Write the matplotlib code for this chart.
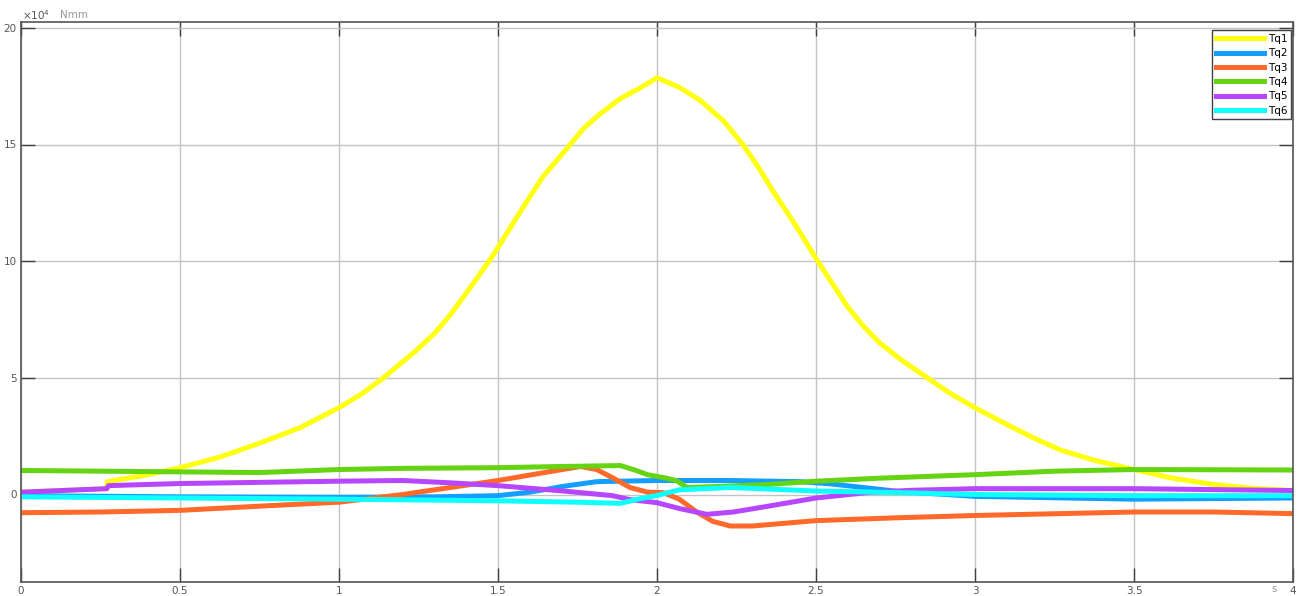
import matplotlib
matplotlib.use('Agg')
import matplotlib.pyplot as plt

# time axis in s, torque in 1e4 Nmm
t1 = [0, 0.27, 0.271, 0.4, 0.5, 0.625, 0.75, 0.877, 1.0, 1.07, 1.14, 1.245, 1.3, 1.35, 1.42,
      1.485, 1.56, 1.64, 1.727, 1.77, 1.82, 1.885, 1.95, 2.0, 2.07, 2.135, 2.21, 2.27, 2.32,
      2.365, 2.44, 2.503, 2.6, 2.65, 2.7, 2.77, 2.85, 2.92, 3.0, 3.1, 3.18, 3.27, 3.38,
      3.5, 3.62, 3.75, 3.87, 4.0]
tq1 = [0.1, 0.25, 0.55, 0.85, 1.15, 1.6, 2.2, 2.86, 3.72, 4.3, 5.0, 6.2, 6.9, 7.7, 9.0,
       10.26, 11.9, 13.6, 15.0, 15.7, 16.3, 16.97, 17.45, 17.86, 17.45, 16.9, 16.0, 15.0, 14.0,
       13.0, 11.45, 10.05, 8.03, 7.2, 6.5, 5.75, 5.0, 4.35, 3.72, 3.0, 2.45, 1.9, 1.45,
       1.07, 0.7, 0.43, 0.27, 0.17]

t2 = [0, 0.5, 1.0, 1.3, 1.5, 1.6, 1.705, 1.81, 2.0, 2.23, 2.45, 2.55, 2.76, 3.0, 3.5, 4.0]
tq2 = [-0.05, -0.1, -0.12, -0.1, -0.05, 0.1, 0.35, 0.55, 0.6, 0.6, 0.55, 0.45, 0.13, -0.08, -0.2, -0.15]

t3 = [0, 0.25, 0.5, 0.75, 1.0, 1.2, 1.5, 1.65, 1.76, 1.81, 1.86, 1.915, 1.97, 2.02, 2.07,
      2.125, 2.175, 2.23, 2.3, 2.5, 2.75, 3.0, 3.5, 3.75, 4.0]
tq3 = [-0.78, -0.75, -0.68, -0.5, -0.33, 0.0, 0.6, 0.95, 1.2, 1.07, 0.72, 0.3, 0.1, 0.08, -0.2,
       -0.75, -1.15, -1.35, -1.35, -1.12, -1.0, -0.9, -0.75, -0.75, -0.82]

t4 = [0, 0.25, 0.5, 0.75, 1.0, 1.2, 1.5, 1.7, 1.885, 1.93, 1.97, 2.03, 2.06, 2.095, 2.2,
      2.35, 2.5, 2.7, 3.0, 3.25, 3.5, 4.0]
tq4 = [1.03, 1.0, 0.97, 0.94, 1.07, 1.12, 1.15, 1.2, 1.24, 1.05, 0.85, 0.7, 0.6, 0.3, 0.35,
       0.43, 0.57, 0.7, 0.85, 1.0, 1.07, 1.05]

t5 = [0, 0.27, 0.275, 0.5, 0.75, 1.0, 1.2, 1.35, 1.5, 1.705, 1.86, 1.915, 2.0, 2.07, 2.157,
      2.24, 2.35, 2.5, 2.66, 2.8, 3.0, 3.5, 4.0]
tq5 = [0.1, 0.25, 0.38, 0.47, 0.52, 0.57, 0.6, 0.5, 0.38, 0.15, -0.05, -0.22, -0.35, -0.6, -0.85,
       -0.75, -0.5, -0.15, 0.08, 0.18, 0.25, 0.25, 0.17]

t6 = [0, 0.5, 1.0, 1.5, 1.75, 1.885, 1.94, 2.0, 2.07, 2.23, 2.5, 2.76, 3.0, 3.5, 4.0]
tq6 = [-0.1, -0.15, -0.2, -0.27, -0.33, -0.38, -0.2, -0.04, 0.2, 0.3, 0.15, 0.08, 0.0, -0.05, -0.05]

series = [
    ('Tq1', t1, tq1, '#FFFF11'),
    ('Tq2', t2, tq2, '#139FFF'),
    ('Tq3', t3, tq3, '#FF6929'),
    ('Tq4', t4, tq4, '#64D413'),
    ('Tq5', t5, tq5, '#B746FF'),
    ('Tq6', t6, tq6, '#0FFFFF'),
]

fig = plt.figure(figsize=(13.09, 5.96), dpi=100)
ax = fig.add_axes([21 / 1309, 1 - 582 / 596, 1272 / 1309, 560 / 596])

for name, t, y, c in series:
    ax.plot(t, y, color=c, lw=3.6, label=name, solid_joinstyle='round')

ax.set_xlim(0, 4)
ax.set_ylim(-3.75, 20.25)
ax.set_xticks([0, 0.5, 1, 1.5, 2, 2.5, 3, 3.5, 4])
ax.set_xticklabels(['0', '0.5', '1', '1.5', '2', '2.5', '3', '3.5', '4'])
ax.set_yticks([0, 5, 10, 15, 20])
ax.grid(True, color='#c4c4c4', lw=1.0)
ax.set_axisbelow(True)
ax.tick_params(direction='in', length=10, width=1, color='#404040', labelsize=7.5,
               labelcolor='#555555', top=True, right=True, pad=3)
for s in ax.spines.values():
    s.set_color('#555555')
    s.set_linewidth(1.2)

fig.text(22 / 1309, 1 - 15 / 596, r'$\times10^4$', fontsize=7.5, color='#555555', va='center')
fig.text(60 / 1309, 1 - 15 / 596, 'Nmm', fontsize=7.5, color='#999999', va='center')
fig.text(1274 / 1309, 1 - 589 / 596, 's', fontsize=7, color='#999999', va='center', ha='center')

leg = ax.legend(loc='upper right', fontsize=7.5, handlelength=4.6, handletextpad=0.4,
                borderpad=0.35, labelspacing=0.42, fancybox=False, framealpha=1,
                bbox_to_anchor=(1.0, 0.989), borderaxespad=0.2)
leg.get_frame().set_edgecolor('#404040')
leg.get_frame().set_linewidth(1.0)
for line in leg.get_lines():
    line.set_linewidth(3.6)

fig.savefig('out.png', dpi=100)
